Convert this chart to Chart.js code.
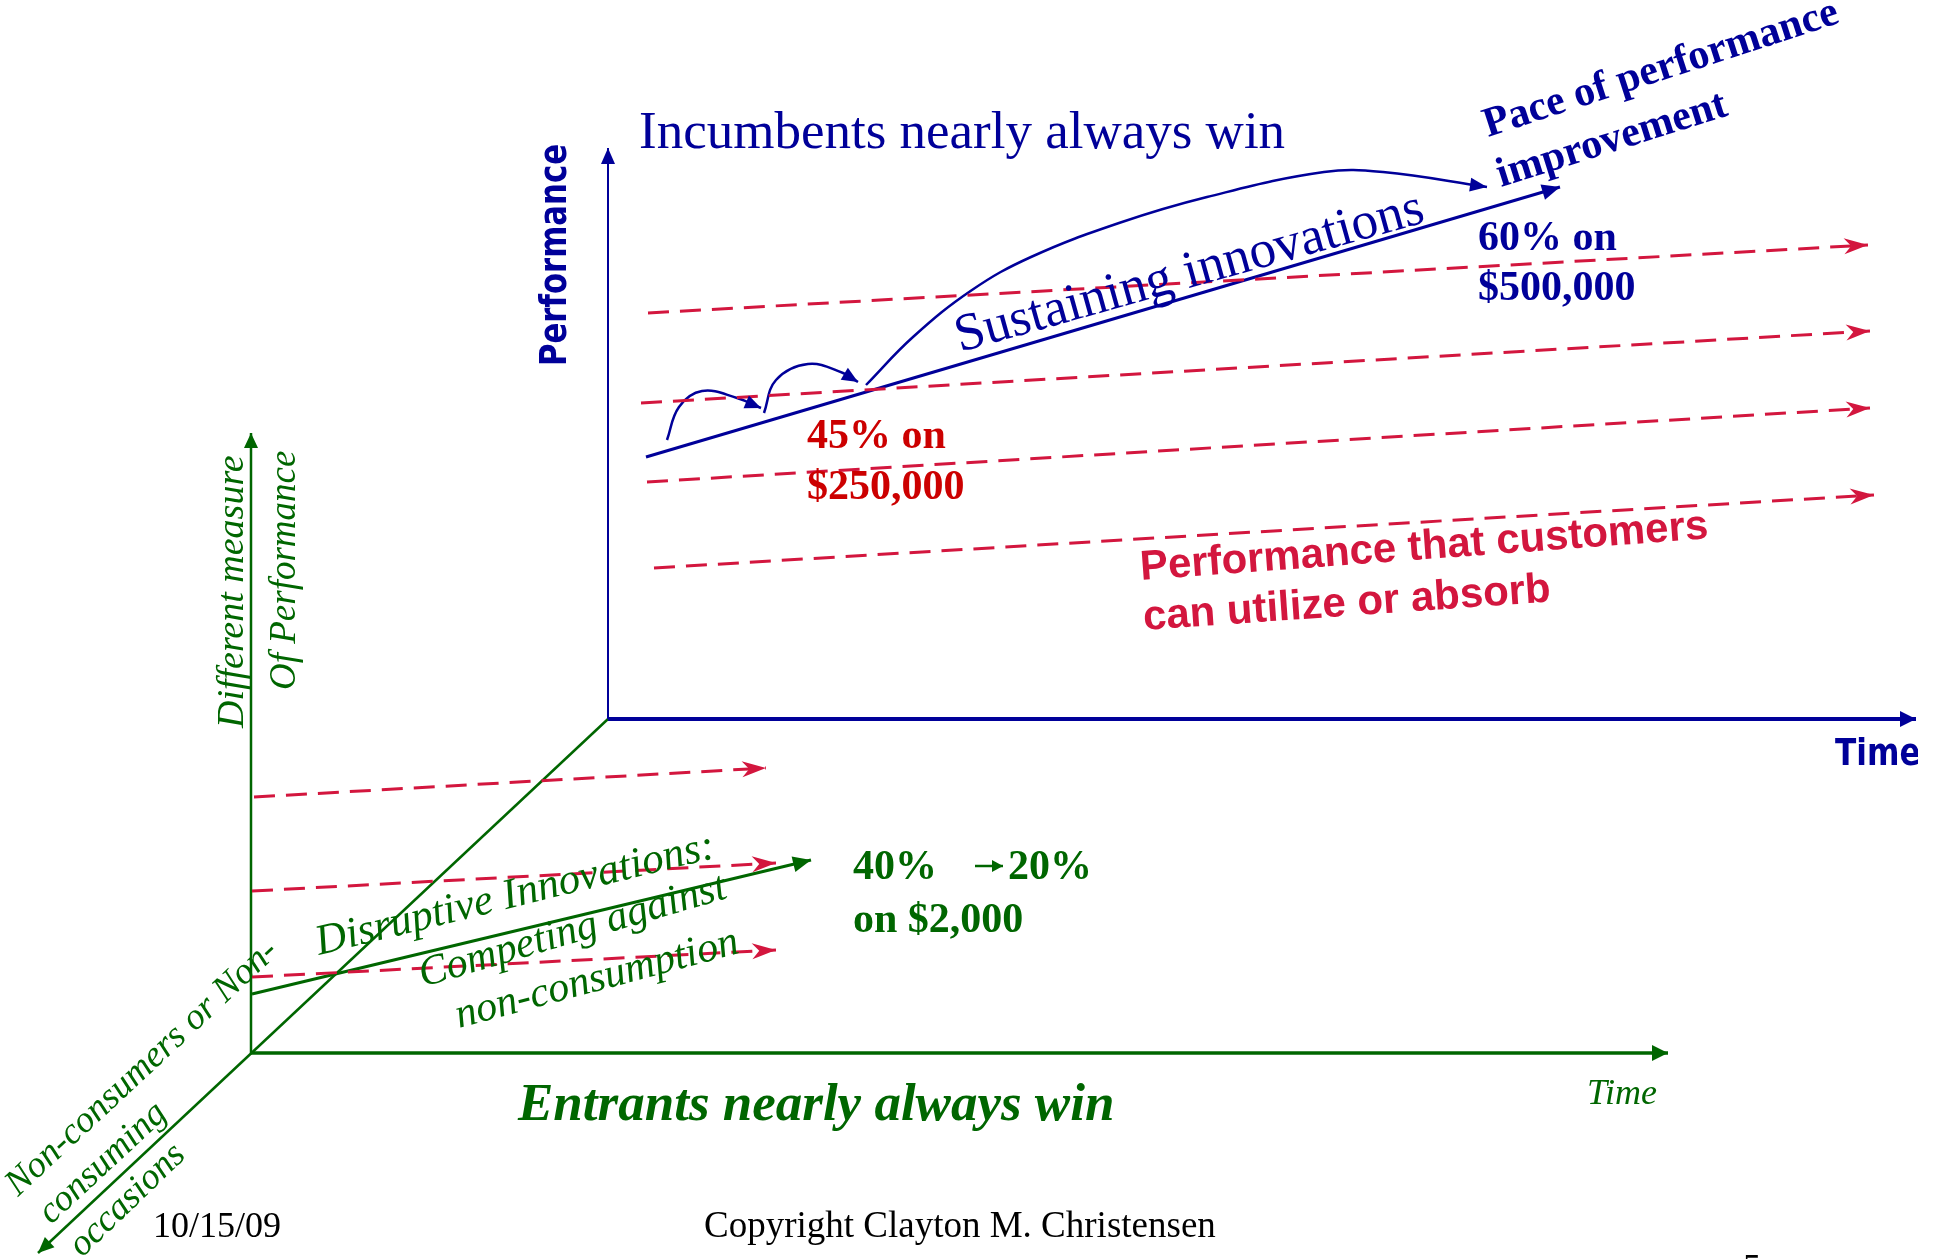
<!DOCTYPE html>
<html>
<head>
<meta charset="utf-8">
<title>Incumbents vs Entrants</title>
<script src="https://cdn.jsdelivr.net/npm/chart.js"></script>
<style>
  html, body { margin: 0; padding: 0; background: #fff; overflow: hidden; }
  canvas { display: block; }
</style>
</head>
<body>
<canvas id="chart" width="1938" height="1259" style="width:1938px;height:1259px"></canvas>
<script>
// diagram geometry (x right, y down)
const upperAxisUp     = [[608, 719], [608, 148]];
const upperAxisRight  = [[608, 719], [1916, 719]];
const lowerAxisUp     = [[251, 1053], [251, 433]];
const lowerAxisRight  = [[251, 1053], [1668, 1053]];
const depthAxis       = [[608, 719], [38, 1253]];

const sustainingTrend = [[646, 457], [1560, 187]];
const jumpSmall       = [[667, 440], [679, 407], [702, 391], [737, 398], [761, 408]];
const jumpMid         = [[764, 413], [776, 380], [808, 364], [843, 373], [858, 382]];
const jumpBig         = [[866, 385], [913, 337], [972, 290], [1031, 257], [1119, 223], [1207, 197], [1324, 172], [1383, 172], [1487, 187]];

const demandUpper1    = [[648, 313], [1868, 245]];
const demandUpper2    = [[641, 403], [1870, 331]];
const demandUpper3    = [[647, 482], [1870, 408]];
const demandUpper4    = [[654, 568], [1874, 495]];

const demandLower1    = [[254, 797], [766, 768]];
const demandLower2    = [[252, 891], [776, 863]];
const demandLower3    = [[252, 977], [776, 950]];

const disruptiveTrend = [[252, 994], [811, 860]];
const shrinkArrow     = [[975, 866], [1003, 866]];

const BLUE  = '#000099';
const GREEN = '#006600';
const DASH  = '#d3163e';
const RED   = '#cc0000';

// the slide is cut off a little before the right edge
const CLIP_RIGHT = 1918;

function pts(arr) { return arr.map(p => ({ x: p[0], y: p[1] })); }

function solid(arr, color, width, head, tension) {
  return { data: pts(arr), showLine: true, borderColor: color, borderWidth: width,
           pointRadius: 0, tension: tension || 0, fill: false, clip: false, head: head };
}
function dashed(arr) {
  return { data: pts(arr), showLine: true, borderColor: DASH, borderWidth: 3, borderDash: [21, 11],
           pointRadius: 0, fill: false, clip: false, head: { kind: 'barb', len: 24, w: 8, color: DASH } };
}

const labels = [
  { text: 'Incumbents nearly always win', at: [639, 148], rot: 0, font: '53px "Liberation Serif"', color: BLUE },
  { text: 'Performance', at: [556, 255], rot: -90, font: 'bold 38px "DejaVu Sans"', sx: 0.81, color: BLUE, align: 'center', base: 'middle' },
  { text: 'Time', at: [1835, 765], rot: 0, font: 'bold 38px "DejaVu Sans"', sx: 0.82, color: BLUE },
  { text: 'Pace of performance', at: [1488, 137], rot: -18, font: 'bold 42px "Liberation Serif"', color: BLUE },
  { text: 'improvement', at: [1501, 187], rot: -17.5, font: 'bold 42px "Liberation Serif"', color: BLUE },
  { text: 'Sustaining innovations', at: [960, 352], rot: -15.6, font: '53px "Liberation Serif"', color: BLUE },
  { text: '60% on', at: [1478, 250], rot: 0, font: 'bold 42px "Liberation Serif"', color: BLUE },
  { text: '$500,000', at: [1478, 300], rot: 0, font: 'bold 42px "Liberation Serif"', color: BLUE },
  { text: '45% on', at: [807, 448], rot: 0, font: 'bold 42px "Liberation Serif"', color: RED },
  { text: '$250,000', at: [807, 499], rot: 0, font: 'bold 42px "Liberation Serif"', color: RED },
  { text: 'Performance that customers', at: [1141, 580], rot: -4.2, font: 'bold 42px "Liberation Sans"', color: DASH },
  { text: 'can utilize or absorb', at: [1144, 630], rot: -4.0, font: 'bold 42px "Liberation Sans"', color: DASH },
  { text: 'Different measure', at: [243, 728], rot: -90, font: 'italic 38px "Liberation Serif"', color: GREEN },
  { text: 'Of Performance', at: [295, 690], rot: -90, font: 'italic 37px "Liberation Serif"', color: GREEN },
  { text: 'Non-consumers or Non-', at: [18, 1197], rot: -43, font: 'italic 37px "Liberation Serif"', color: GREEN },
  { text: 'consuming', at: [51, 1225], rot: -43, font: 'italic 37px "Liberation Serif"', color: GREEN },
  { text: 'occasions', at: [82, 1258], rot: -44, font: 'italic 37px "Liberation Serif"', color: GREEN },
  { text: 'Disruptive Innovations:', at: [319, 955], rot: -13.8, font: 'italic 43px "Liberation Serif"', color: GREEN },
  { text: 'Competing against', at: [423, 987], rot: -16.3, font: 'italic 42px "Liberation Serif"', color: GREEN },
  { text: 'non-consumption', at: [459, 1028], rot: -15, font: 'italic 42px "Liberation Serif"', color: GREEN },
  { text: '40%', at: [853, 879], rot: 0, font: 'bold 42px "Liberation Serif"', color: GREEN },
  { text: '20%', at: [1008, 879], rot: 0, font: 'bold 42px "Liberation Serif"', color: GREEN },
  { text: 'on $2,000', at: [853, 932], rot: 0, font: 'bold 42px "Liberation Serif"', color: GREEN },
  { text: 'Entrants nearly always win', at: [518, 1120], rot: 0, font: 'italic bold 53px "Liberation Serif"', color: GREEN },
  { text: 'Time', at: [1587, 1104], rot: 0, font: 'italic 36px "Liberation Serif"', color: GREEN },
  { text: '10/15/09', at: [153, 1237], rot: 0, font: '36px "Liberation Serif"', color: '#000' },
  { text: 'Copyright Clayton M. Christensen', at: [704, 1237], rot: 0, font: '37px "Liberation Serif"', color: '#000' },
  { text: '5', at: [1743, 1279], rot: 0, font: '36px "Liberation Serif"', color: '#000' }
];

const arrowHeads = {
  id: 'arrowHeads',
  afterDatasetsDraw(chart) {
    const ctx = chart.ctx;
    chart.data.datasets.forEach((ds, i) => {
      if (!ds.head) return;
      const el = chart.getDatasetMeta(i).data;
      const a = el[el.length - 2], b = el[el.length - 1];
      const ang = Math.atan2(b.y - a.y, b.x - a.x);
      const h = ds.head;
      ctx.save();
      ctx.translate(b.x, b.y);
      ctx.rotate(ang);
      ctx.fillStyle = h.color || ds.borderColor;
      ctx.beginPath();
      ctx.moveTo(0, 0);
      ctx.lineTo(-h.len, -h.w);
      if (h.kind === 'barb') ctx.lineTo(-h.len * 0.7, 0);
      ctx.lineTo(-h.len, h.w);
      ctx.closePath();
      ctx.fill();
      ctx.restore();
    });
  }
};

const textLabels = {
  id: 'textLabels',
  afterDraw(chart) {
    const ctx = chart.ctx;
    const sx = chart.scales.x, sy = chart.scales.y;
    ctx.save();
    ctx.beginPath();
    ctx.rect(0, 0, sx.getPixelForValue(CLIP_RIGHT), chart.height);
    ctx.clip();
    labels.forEach(l => {
      ctx.save();
      ctx.translate(sx.getPixelForValue(l.at[0]), sy.getPixelForValue(l.at[1]));
      ctx.rotate(l.rot * Math.PI / 180);
      if (l.sx) ctx.scale(l.sx, 1);
      ctx.font = l.font;
      ctx.fillStyle = l.color;
      ctx.textAlign = l.align || 'left';
      ctx.textBaseline = l.base || 'alphabetic';
      ctx.fillText(l.text, 0, 0);
      ctx.restore();
    });
    ctx.restore();
  }
};

new Chart(document.getElementById('chart'), {
  type: 'scatter',
  data: {
    datasets: [
      dashed(demandUpper1),
      dashed(demandUpper2),
      dashed(demandUpper3),
      dashed(demandUpper4),
      dashed(demandLower1),
      dashed(demandLower2),
      dashed(demandLower3),
      solid(upperAxisUp, BLUE, 2, { len: 16, w: 7 }),
      solid(upperAxisRight, BLUE, 4, { len: 16, w: 8 }),
      solid(lowerAxisUp, GREEN, 2.5, { len: 15, w: 7 }),
      solid(lowerAxisRight, GREEN, 3.5, { len: 16, w: 8 }),
      solid(depthAxis, GREEN, 2.5, { len: 16, w: 7 }),
      solid(sustainingTrend, BLUE, 3, { len: 18, w: 8 }),
      solid(jumpSmall, BLUE, 2.5, { len: 16, w: 7 }, 0.4),
      solid(jumpMid, BLUE, 2.5, { len: 16, w: 7 }, 0.4),
      solid(jumpBig, BLUE, 2.5, { len: 17, w: 7 }, 0.4),
      solid(disruptiveTrend, GREEN, 3, { len: 18, w: 8 }),
      solid(shrinkArrow, GREEN, 2.5, { len: 11, w: 6 })
    ]
  },
  options: {
    responsive: false,
    devicePixelRatio: 1,
    animation: false,
    layout: { padding: 0 },
    plugins: { legend: { display: false }, tooltip: { enabled: false } },
    scales: {
      x: { type: 'linear', min: 0, max: 1938, display: false },
      y: { type: 'linear', min: 0, max: 1259, reverse: true, display: false }
    }
  },
  plugins: [arrowHeads, textLabels]
});
</script>
</body>
</html>
